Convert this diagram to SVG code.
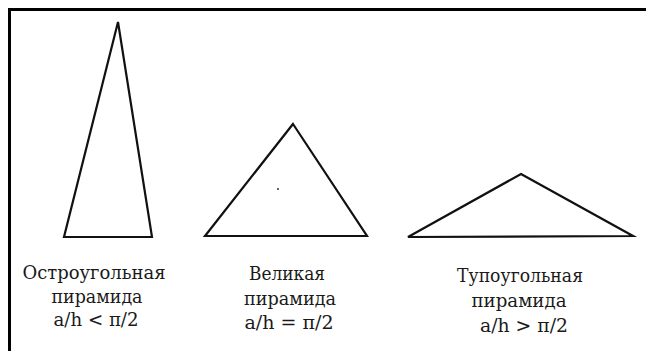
<svg xmlns="http://www.w3.org/2000/svg" width="646" height="351" viewBox="0 0 646 351">
<style>
.tri{fill:none;stroke:#111;stroke-width:2.2;stroke-linejoin:miter}
.lbl{font-family:"DejaVu Serif","Liberation Serif",serif;font-size:18px;fill:#1a1a1a;text-anchor:middle}
</style>
<rect width="646" height="351" fill="#fff"/>
<g id="frame">
<path d="M9.5 351V9.5H646" fill="none" stroke="#000" stroke-width="3"/>
</g>
<g id="acute">
<polygon class="tri" points="118,22 152,237 64,237"/>
<text class="lbl" x="94" y="279" textLength="143" lengthAdjust="spacingAndGlyphs">Остроугольная</text>
<text class="lbl" x="97" y="303" textLength="91" lengthAdjust="spacingAndGlyphs">пирамида</text>
<text class="lbl" x="96" y="326" textLength="85" lengthAdjust="spacingAndGlyphs">a/h &lt; π/2</text>
</g>
<g id="great">
<polygon class="tri" points="293,124 367,236 205,236"/>
<circle cx="278" cy="189" r="1" fill="#333"/>
<text class="lbl" x="287" y="280" textLength="76" lengthAdjust="spacingAndGlyphs">Великая</text>
<text class="lbl" x="290" y="305" textLength="92" lengthAdjust="spacingAndGlyphs">пирамида</text>
<text class="lbl" x="289" y="329" textLength="89" lengthAdjust="spacingAndGlyphs">a/h = π/2</text>
</g>
<g id="obtuse">
<polygon class="tri" points="521,174 633,236 408,237"/>
<text class="lbl" x="520" y="282" textLength="126" lengthAdjust="spacingAndGlyphs">Тупоугольная</text>
<text class="lbl" x="519" y="307" textLength="95" lengthAdjust="spacingAndGlyphs">пирамида</text>
<text class="lbl" x="524" y="332" textLength="88" lengthAdjust="spacingAndGlyphs">a/h &gt; π/2</text>
</g>
<g id="connectors"/>
</svg>
